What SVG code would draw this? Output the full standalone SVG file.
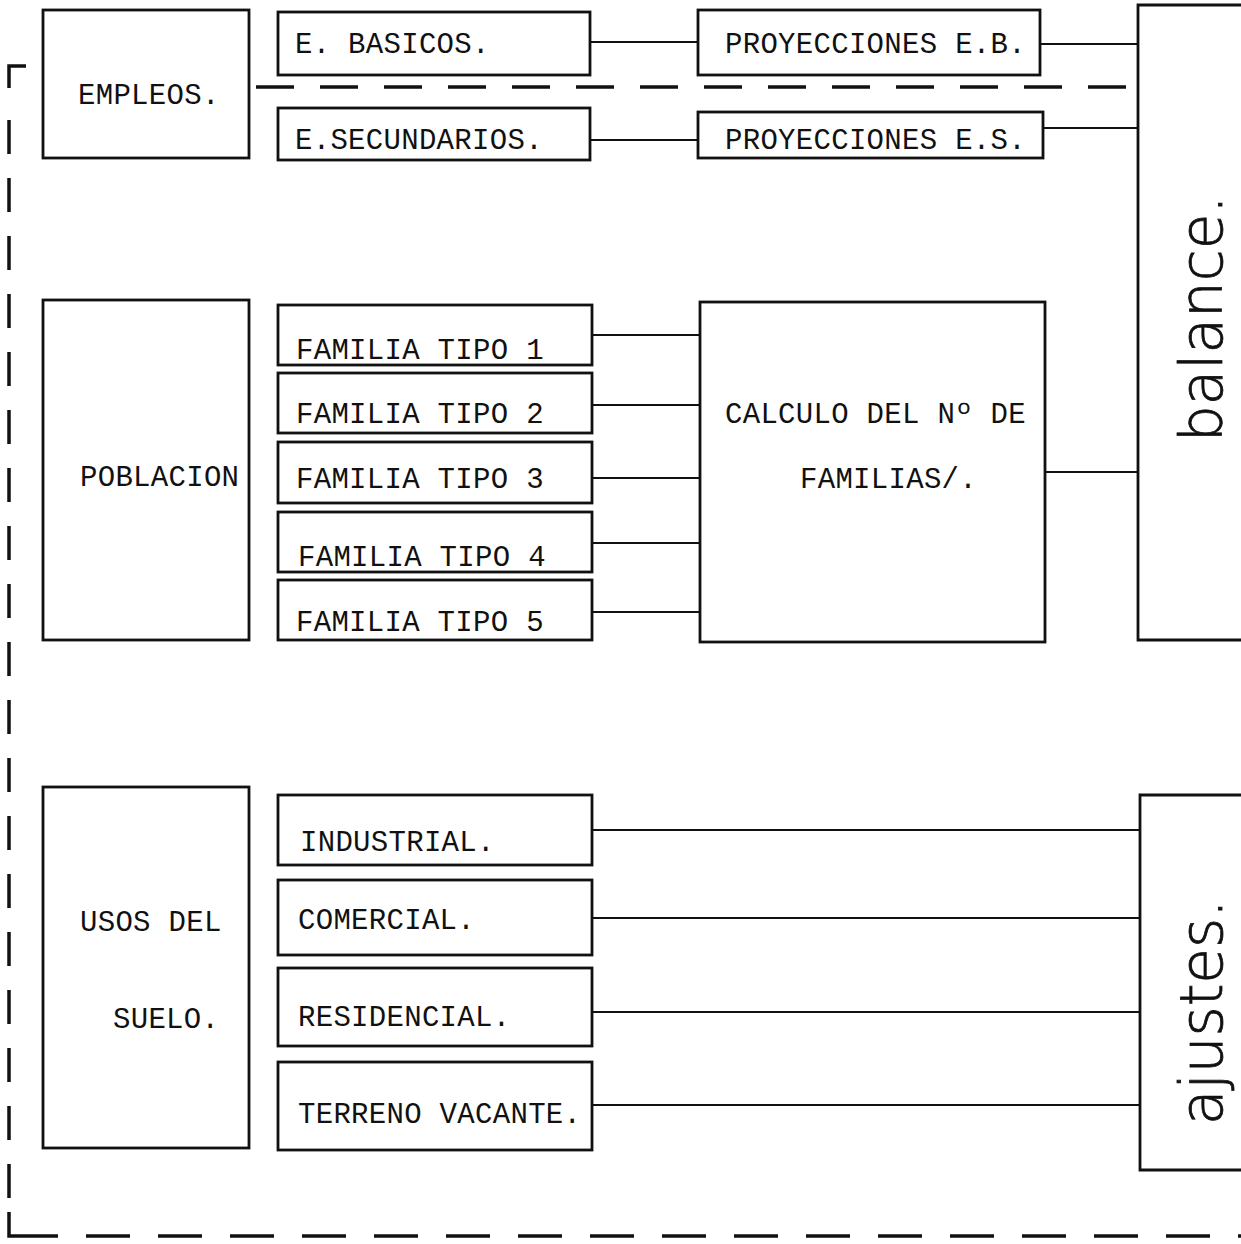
<svg xmlns="http://www.w3.org/2000/svg" width="1241" height="1244" viewBox="0 0 1241 1244">
<style>
.box{fill:none;stroke:#111;stroke-width:2.8}
.ln{fill:none;stroke:#111;stroke-width:2.2}
.dash{fill:none;stroke:#111;stroke-width:3.5}
.t{font-family:"Liberation Mono","Courier New",monospace;font-size:29px;fill:#111;letter-spacing:0.3px}
.big{font-family:"DejaVu Sans",sans-serif;font-weight:200;font-size:58px;fill:#111;stroke:#111;stroke-width:0.8}
</style>
<rect width="1241" height="1244" fill="#fff"/>
<g id="connectors">
<line class="ln" x1="590" y1="42" x2="698" y2="42"/>
<line class="ln" x1="590" y1="140" x2="698" y2="140"/>
<line class="ln" x1="1040" y1="44" x2="1138" y2="44"/>
<line class="ln" x1="1043" y1="128" x2="1138" y2="128"/>
<line class="ln" x1="592" y1="335" x2="700" y2="335"/>
<line class="ln" x1="592" y1="405" x2="700" y2="405"/>
<line class="ln" x1="592" y1="478" x2="700" y2="478"/>
<line class="ln" x1="592" y1="543" x2="700" y2="543"/>
<line class="ln" x1="592" y1="612" x2="700" y2="612"/>
<line class="ln" x1="1045" y1="472" x2="1138" y2="472"/>
<line class="ln" x1="592" y1="830" x2="1140" y2="830"/>
<line class="ln" x1="592" y1="918" x2="1140" y2="918"/>
<line class="ln" x1="592" y1="1012" x2="1140" y2="1012"/>
<line class="ln" x1="592" y1="1105" x2="1140" y2="1105"/>
<line class="dash" x1="256" y1="87" x2="1135" y2="87" stroke-dasharray="38 26"/>
<path class="dash" d="M26 66 H9 V88"/>
<line class="dash" x1="9" y1="120" x2="9" y2="1205" stroke-dasharray="34 24"/>
<path class="dash" d="M9 1212 V1236 H58"/>
<line class="dash" x1="86" y1="1236" x2="1241" y2="1236" stroke-dasharray="44 28"/>
</g>
<g id="empleos"><rect class="box" x="43" y="10" width="206" height="148"/><text class="t" x="78" y="104">EMPLEOS.</text></g>
<g id="e-basicos"><rect class="box" x="278" y="12" width="312" height="63"/><text class="t" x="295" y="53">E. BASICOS.</text></g>
<g id="e-secundarios"><rect class="box" x="278" y="108" width="312" height="52"/><text class="t" x="295" y="149">E.SECUNDARIOS.</text></g>
<g id="proy-eb"><rect class="box" x="698" y="10" width="342" height="65"/><text class="t" x="725" y="53">PROYECCIONES E.B.</text></g>
<g id="proy-es"><rect class="box" x="698" y="112" width="345" height="46"/><text class="t" x="725" y="149">PROYECCIONES E.S.</text></g>
<g id="balance"><path class="box" d="M1241 5 H1138 V640 H1241"/><text class="big" transform="translate(1222,442) rotate(-90)">balance.</text></g>
<g id="poblacion"><rect class="box" x="43" y="300" width="206" height="340"/><text class="t" x="80" y="486">POBLACION</text></g>
<g id="tipo1"><rect class="box" x="278" y="305" width="314" height="60"/><text class="t" x="296" y="359">FAMILIA TIPO 1</text></g>
<g id="tipo2"><rect class="box" x="278" y="373" width="314" height="60"/><text class="t" x="296" y="423">FAMILIA TIPO 2</text></g>
<g id="tipo3"><rect class="box" x="278" y="442" width="314" height="61"/><text class="t" x="296" y="488">FAMILIA TIPO 3</text></g>
<g id="tipo4"><rect class="box" x="278" y="512" width="314" height="60"/><text class="t" x="298" y="566">FAMILIA TIPO 4</text></g>
<g id="tipo5"><rect class="box" x="278" y="580" width="314" height="60"/><text class="t" x="296" y="631">FAMILIA TIPO 5</text></g>
<g id="calculo"><rect class="box" x="700" y="302" width="345" height="340"/><text class="t" x="725" y="423">CALCULO DEL Nº DE</text><text class="t" x="800" y="488">FAMILIAS/.</text></g>
<g id="usos"><rect class="box" x="43" y="787" width="206" height="361"/><text class="t" x="80" y="931">USOS DEL</text><text class="t" x="113" y="1028">SUELO.</text></g>
<g id="industrial"><rect class="box" x="278" y="795" width="314" height="70"/><text class="t" x="300" y="851">INDUSTRIAL.</text></g>
<g id="comercial"><rect class="box" x="278" y="880" width="314" height="75"/><text class="t" x="298" y="929">COMERCIAL.</text></g>
<g id="residencial"><rect class="box" x="278" y="968" width="314" height="78"/><text class="t" x="298" y="1026">RESIDENCIAL.</text></g>
<g id="terreno"><rect class="box" x="278" y="1062" width="314" height="88"/><text class="t" x="298" y="1123">TERRENO VACANTE.</text></g>
<g id="ajustes"><path class="box" d="M1241 795 H1140 V1170 H1241"/><text class="big" transform="translate(1222,1125) rotate(-90)">ajustes.</text></g>
</svg>
